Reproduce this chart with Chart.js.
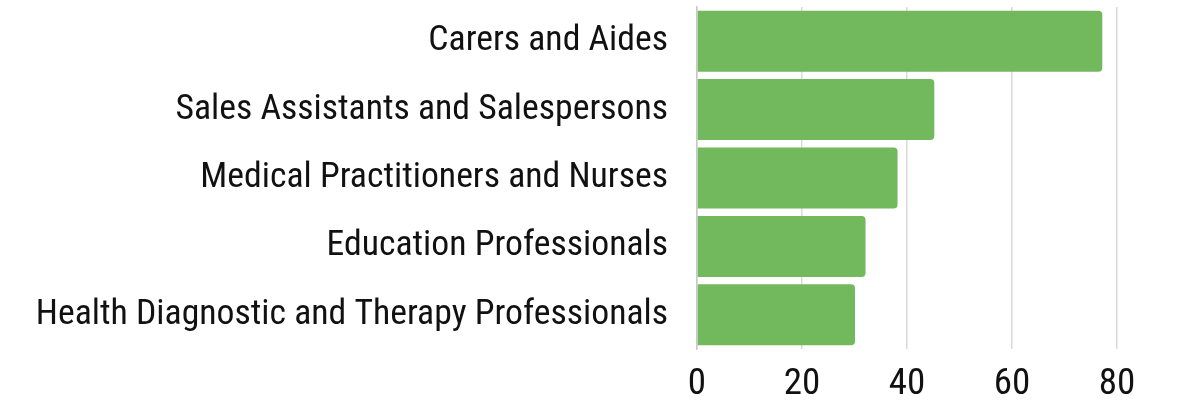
<!DOCTYPE html>
<html>
<head>
<meta charset="utf-8">
<script src="https://cdn.jsdelivr.net/npm/chart.js@4.4.1/dist/chart.umd.min.js"></script>
<style>
html,body{margin:0;padding:0;background:#fff;}
#wrap{width:1177px;height:403px;position:relative;}
</style>
</head>
<body>
<div id="wrap"><canvas id="c" width="1177" height="403"></canvas></div>
<script>
const categories = [
  "Carers and Aides",
  "Sales Assistants and Salespersons",
  "Medical Practitioners and Nurses",
  "Education Professionals",
  "Health Diagnostic and Therapy Professionals"
];
const values = [77.2, 45.2, 38.2, 32.1, 30.1];
const xTicks = [0, 20, 40, 60, 80];

const FONT = "'Roboto Condensed', 'Liberation Sans Narrow', sans-serif";

new Chart(document.getElementById('c'), {
  type: 'bar',
  data: {
    labels: categories,
    datasets: [{
      data: values,
      backgroundColor: '#71B95C',
      borderWidth: 0,
      borderRadius: 4,
      barPercentage: 1.0,
      categoryPercentage: 0.892
    }]
  },
  options: {
    indexAxis: 'y',
    responsive: false,
    animation: false,
    devicePixelRatio: 1,
    layout: { padding: { top: 7, right: 60, left: 0, bottom: 0 } },
    plugins: { legend: { display: false }, tooltip: { enabled: false } },
    scales: {
      x: {
        min: 0, max: 80,
        afterBuildTicks: (s) => { s.ticks = xTicks.map(v => ({ value: v })); },
        grid: { color: '#d9d9d9', lineWidth: 1.5, drawTicks: false },
        border: { display: false },
        ticks: { color: '#111', font: { family: FONT, size: 37, weight: 'normal' }, padding: 14 },
        afterFit: (s) => { s.height = 54; s.paddingLeft = 0; s.paddingRight = 0; }
      },
      y: {
        grid: { display: false, drawTicks: false },
        border: { display: true, color: '#c8c8c8', width: 1.5 },
        ticks: { color: '#111', font: { family: FONT, size: 35.7, weight: 'normal' }, padding: 29 },
        afterFit: (s) => { s.width = 697; s.paddingTop = 0; s.paddingBottom = 0; }
      }
    }
  }
});
</script>
</body>
</html>
